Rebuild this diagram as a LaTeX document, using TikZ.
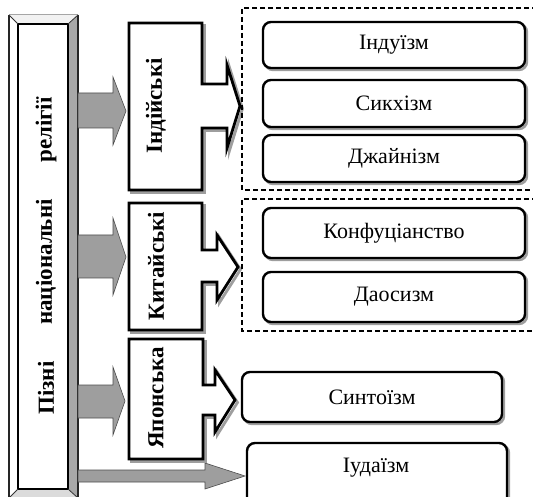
\documentclass[tikz,border=0pt]{standalone}
\usepackage{fontspec}
\setmainfont{Liberation Serif}
\definecolor{arrowgray}{gray}{0.62}
\definecolor{shadowgray}{gray}{0.62}
\definecolor{bevelright}{gray}{0.66}
\definecolor{bevelbottom}{gray}{0.86}
\definecolor{beveltop}{gray}{0.95}
\begin{document}
\begin{tikzpicture}[x=1pt,y=-1pt,
  catbox/.style={draw=black, line width=2.8pt, fill=white, line join=miter,
     preaction={draw=shadowgray, line width=2.8pt, transform canvas={shift={(2.5pt,-2.5pt)}}}},
  rbox/.style={draw=black, line width=2.4pt, fill=white, rounded corners=8pt, inner sep=0pt,
     font=\fontsize{22}{24}\selectfont,
     preaction={draw=shadowgray, line width=2.4pt, transform canvas={shift={(2pt,-2pt)}}}},
  grayarrow/.style={fill=arrowgray, draw=black!70, line width=0.6pt, line join=miter},
  dashbox/.style={draw=black, line width=1.5pt, dash pattern=on 5pt off 3pt},
  vtext/.style={rotate=90, font=\bfseries\fontsize{23}{25}\selectfont, inner sep=0pt},
  plain/.style={font=\fontsize{22}{24}\selectfont, inner sep=0pt}
]
\useasboundingbox (0,0) rectangle (533,497);

% left bevelled box
\fill[white] (9,15) rectangle (78,498);
\fill[beveltop] (9,15) -- (78,15) -- (68,24) -- (18,24) -- cycle;
\fill[bevelright] (78,15) -- (78,498) -- (68,489) -- (68,24) -- cycle;
\fill[bevelbottom] (9,498) -- (78,498) -- (68,489) -- (18,489) -- cycle;
\draw[black!85, line width=1.2pt] (9,498) -- (9,15);
\draw[gray!70, line width=1pt] (9,15) -- (78,15);
\draw[black!85, line width=1.2pt] (78,15) -- (78,498);
\draw[black, line width=1.5pt] (18,24) rectangle (68,489);
\draw[black!80, line width=0.8pt] (9,15) -- (18,24) (78,15) -- (68,24) (9,498) -- (18,489) (78,498) -- (68,489);
\node[vtext] (rel) at (46,130) {релігії};
\node[vtext] (nat) at (46,262) {національні};
\node[vtext] (piz) at (46,388) {Пізні};

% grey block arrows
\draw[grayarrow] (78,93) -- (113,93) -- (113,77) -- (126,111) -- (113,145) -- (113,128) -- (78,128) -- cycle;
\draw[grayarrow] (78,235) -- (113,235) -- (113,218) -- (126,257) -- (113,295) -- (113,278) -- (78,278) -- cycle;
\draw[grayarrow] (78,385) -- (113,385) -- (113,367) -- (125,401) -- (113,435) -- (113,418) -- (78,418) -- cycle;
\draw[grayarrow] (78,470) -- (205,470) -- (205,463) -- (245,476) -- (205,489) -- (205,482) -- (78,482) -- cycle;

% category callouts
\draw[catbox] (129,23) -- (202,23) -- (202,84) -- (227,84) -- (227,65) -- (240,106) -- (227,148) -- (227,128) -- (202,128) -- (202,190) -- (129,190) -- cycle;
\node[vtext] (indi) at (156,106) {Індійські};
\draw[catbox] (129,203) -- (202,203) -- (202,250) -- (217,250) -- (217,235) -- (238,267) -- (217,300) -- (217,282) -- (202,282) -- (202,330) -- (129,330) -- cycle;
\node[vtext] (kyt) at (156,266) {Китайські};
\draw[catbox] (129,339) -- (203,339) -- (203,385) -- (215,385) -- (215,370) -- (235,400) -- (215,432) -- (215,415) -- (203,415) -- (203,459) -- (129,459) -- cycle;
\node[vtext] (yap) at (156,398) {Японська};

% dashed groups
\draw[dashbox] (545,8) -- (242,8) -- (242,190) -- (545,190);
\draw[dashbox] (545,199) -- (242,199) -- (242,331) -- (545,331);

% religions
\node[rbox, minimum width=262pt, minimum height=46pt] (hin) at (394,45) {Індуїзм};
\node[rbox, minimum width=262pt, minimum height=47pt] (sik) at (394,103.5) {Сикхізм};
\node[rbox, minimum width=262pt, minimum height=47pt] (dzh) at (394,158.5) {Джайнізм};
\node[rbox, minimum width=262pt, minimum height=50pt] (kon) at (394,233) {Конфуціанство};
\node[rbox, minimum width=262pt, minimum height=50pt] (dao) at (394,297) {Даосизм};
\node[rbox, minimum width=260pt, minimum height=50pt] (shin) at (372,397) {Синтоїзм};
\node[rbox, minimum width=260pt, minimum height=62pt] (iud) at (377,474) {};
\node[plain] (iudt) at (376,468) {Іудаїзм};
\end{tikzpicture}
\end{document}
